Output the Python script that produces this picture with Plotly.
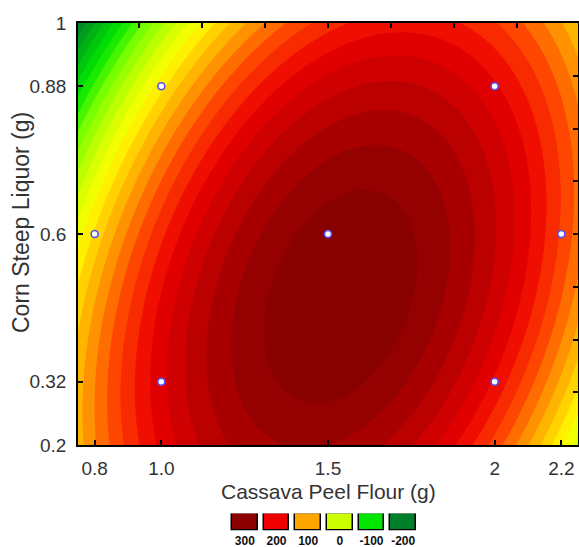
import numpy as np
import plotly.graph_objects as go

# ---------------- data ----------------
# design points (Cassava Peel Flour g, Corn Steep Liquor g)
design_x = [1.0, 2.0, 1.0, 2.0, 0.8, 2.2, 1.5]
design_y = [0.32, 0.32, 0.88, 0.88, 0.6, 0.6, 0.6]

# fitted second-order response model in coded units
# z = b0 + b1*u + b2*v + b11*u^2 + b22*v^2 + b12*u*v
model_terms = ["b0", "b1", "b2", "b11", "b22", "b12"]
model_coefs = [310.0, 33.3, -38.5, -102.0, -41.6, 42.0]
x_center, x_step = 1.5, 0.5
y_center, y_step = 0.6, 0.28

x_ticks = [0.8, 1.0, 1.5, 2.0, 2.2]
x_ticklabels = ["0.8", "1.0", "1.5", "2", "2.2"]
y_ticks = [0.2, 0.32, 0.6, 0.88, 1.0]
y_ticklabels = ["0.2", "0.32", "0.6", "0.88", "1"]
top_minor_ticks = [0.933, 1.122, 1.311, 1.5, 1.689, 1.878, 2.067]
right_minor_ticks = [0.3, 0.4, 0.5, 0.6, 0.7, 0.8, 0.9]

legend_labels = ["300", "200", "100", "0", "-100", "-200"]
legend_colors = ["#8b0000", "#ee0000", "#ffa500", "#ccff00", "#00e600", "#007f2a"]

# colour scale anchors (value -> colour)
cs_values = [-240, -200, -100, -50, 0, 40, 100, 150, 200, 300, 320]
cs_colors = ["rgb(0,85,35)", "rgb(0,125,40)", "rgb(0,230,0)", "rgb(120,255,0)",
             "rgb(204,255,0)", "rgb(255,255,0)", "rgb(255,165,0)", "rgb(255,70,0)",
             "rgb(235,0,0)", "rgb(139,0,0)", "rgb(135,0,0)"]

x_range = [0.75, 2.25]
y_range = [0.2, 1.0]

# ---------------- surface ----------------
gx = np.linspace(x_range[0], x_range[1], 301)
gy = np.linspace(y_range[0], y_range[1], 241)
XX, YY = np.meshgrid(gx, gy)
U = (XX - x_center) / x_step
V = (YY - y_center) / y_step
c = dict(zip(model_terms, model_coefs))
Z = (c["b0"] + c["b1"] * U + c["b2"] * V + c["b11"] * U ** 2
     + c["b22"] * V ** 2 + c["b12"] * U * V)

zmin, zmax = cs_values[0], cs_values[-1]
colorscale = [[(v - zmin) / (zmax - zmin), col] for v, col in zip(cs_values, cs_colors)]

FONT = "Liberation Sans, Arial, sans-serif"
TXT = "#333333"

fig = go.Figure()
fig.add_trace(go.Contour(
    x=gx, y=gy, z=Z,
    colorscale=colorscale, zmin=zmin, zmax=zmax,
    contours=dict(start=-240, end=320, size=20, coloring="fill", showlines=False),
    line=dict(width=0, smoothing=0),
    showscale=False, hoverinfo="skip",
    xaxis="x", yaxis="y",
))

fig.add_trace(go.Scatter(
    x=design_x, y=design_y, mode="markers",
    marker=dict(color="white", size=7, line=dict(color="rgb(80,80,255)", width=1.6)),
    xaxis="x3", yaxis="y3", showlegend=False, hoverinfo="skip",
))

# legend swatches
fig.add_trace(go.Bar(
    x=legend_labels, y=[1] * len(legend_labels),
    marker=dict(color=legend_colors, line=dict(color="black", width=1.5)),
    width=0.82, xaxis="x2", yaxis="y2", showlegend=False, hoverinfo="skip",
))

H, W = 547, 579
mt, mb, ml, mr = 23, 3, 78, 1
ph = H - mt - mb
pw = W - ml - mr
def py(px):
    return (H - mb - px) / ph
def pxx(px):
    return (px - ml) / pw

main_bottom = py(445)

axis_common = dict(showline=True, linecolor="black", linewidth=1.5, mirror=False,
                   ticks="inside", ticklen=5, tickwidth=1.5, tickcolor="black",
                   showgrid=False, zeroline=False, automargin=False,
                   tickfont=dict(family=FONT, size=19, color=TXT))

fig.update_layout(
    width=W, height=H,
    margin=dict(l=ml, r=mr, t=mt, b=mb, autoexpand=False),
    paper_bgcolor="white", plot_bgcolor="white",
    showlegend=False,
    xaxis=dict(range=x_range, domain=[0, 1], anchor="y",
               tickmode="array", tickvals=x_ticks, ticktext=x_ticklabels,
               ticklabelstandoff=5, **axis_common),
    yaxis=dict(range=y_range, domain=[main_bottom, 1], anchor="x",
               tickmode="array", tickvals=y_ticks, ticktext=y_ticklabels,
               ticklabelstandoff=6, **axis_common),
    xaxis3=dict(range=x_range, overlaying="x", side="top", anchor="y",
                tickmode="array", tickvals=top_minor_ticks, showticklabels=False,
                **axis_common),
    yaxis3=dict(range=y_range, overlaying="y", side="right", anchor="x",
                tickmode="array", tickvals=right_minor_ticks, showticklabels=False,
                **axis_common),
    xaxis2=dict(domain=[pxx(229), pxx(419)], anchor="y2", type="category",
                showline=False, showgrid=False, zeroline=False, ticks="",
                ticklabelstandoff=1, automargin=False,
                tickfont=dict(family=FONT, size=12, color="#111111", weight="bold")),
    yaxis2=dict(domain=[py(530.5), py(513.5)], anchor="x2", range=[0, 1],
                visible=False, fixedrange=True, automargin=False),
    bargap=0,
    annotations=[
        dict(text="Cassava Peel Flour (g)", x=0.5, y=py(491), xref="paper", yref="paper",
             showarrow=False, xanchor="center", yanchor="middle",
             font=dict(family=FONT, size=21, color=TXT)),
        dict(text="Corn Steep Liquor (g)", x=pxx(21), y=py(223), xref="paper", yref="paper",
             showarrow=False, xanchor="center", yanchor="middle", textangle=-90,
             font=dict(family=FONT, size=23, color=TXT)),
    ],
)

fig.write_html("out.html")
